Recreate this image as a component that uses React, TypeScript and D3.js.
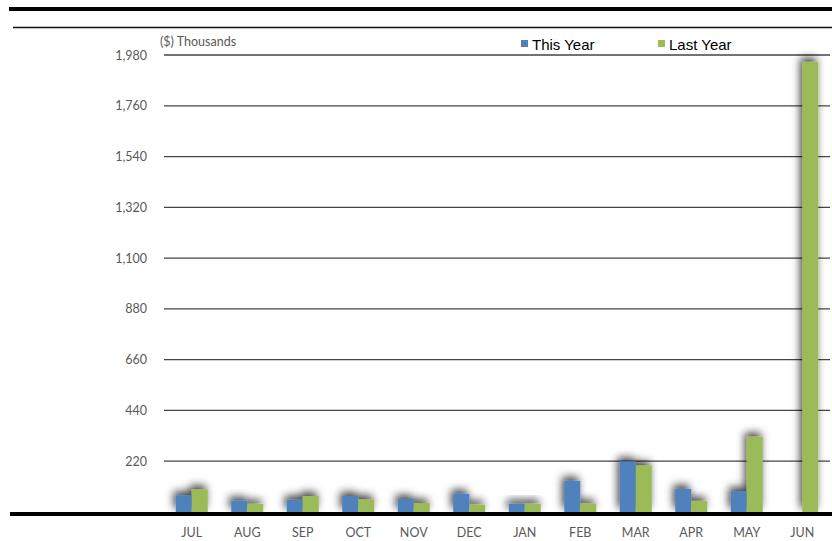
import React from "react";
import * as d3 from "d3";

const months = ["JUL","AUG","SEP","OCT","NOV","DEC","JAN","FEB","MAR","APR","MAY","JUN"];
const thisYear = [72, 49, 53, 69, 56, 79, 35, 135, 219, 100, 90, 0];
const lastYear = [98, 35, 69, 55, 39, 32, 36, 37, 202, 48, 326, 1950];
const yTicks = [220, 440, 660, 880, 1100, 1320, 1540, 1760, 1980];
const seriesNames = ["This Year", "Last Year"];
const colors = ["#4F81BD", "#9BBB59"];

export default function App() {
  const W = 832, H = 541;
  const x = d3.scaleBand<string>().domain(months).range([164, 830]).paddingInner(0).paddingOuter(0);
  const y = d3.scaleLinear().domain([0, 1980]).range([512, 55]);
  const barW = 16;
  const fmt = d3.format(",");
  const font = "Lato, 'Open Sans', sans-serif";
  return (
    <svg width={W} height={H} style={{ position: "absolute", left: 0, top: 0, background: "#fff" }}>
      <defs>
        <filter id="sh" x="-100%" y="-100%" width="300%" height="300%">
          <feDropShadow dx={-2} dy={-4} stdDeviation={4} floodColor="#000" floodOpacity={0.75} />
        </filter>
      </defs>
      <line x1={9} x2={832} y1={9} y2={9} stroke="#000" strokeWidth={4} />
      <line x1={13} x2={832} y1={27.5} y2={27.5} stroke="#111" strokeWidth={1.5} />
      {yTicks.map((t) => (
        <g key={t}>
          <line x1={164} x2={830} y1={y(t)} y2={y(t)} stroke="#444" strokeWidth={1.3} />
          <text x={147} y={y(t) + 4.5} textAnchor="end" fontFamily={font} fontSize={12.5} fill="#595959">{fmt(t)}</text>
        </g>
      ))}
      <text x={160} y={46} fontFamily={font} fontSize={12.5} fill="#595959">($) Thousands</text>
      {months.map((m, i) => {
        const cx = (x(m) as number) + x.bandwidth() / 2;
        return (
          <g key={m} filter="url(#sh)">
            {thisYear[i] > 0 && (
              <rect x={cx - barW} y={y(thisYear[i])} width={barW} height={y(0) - y(thisYear[i])} fill={colors[0]} />
            )}
            {lastYear[i] > 0 && (
              <rect x={cx} y={y(lastYear[i])} width={barW} height={y(0) - y(lastYear[i])} fill={colors[1]} />
            )}
          </g>
        );
      })}
      <line x1={10} x2={832} y1={514} y2={514} stroke="#000" strokeWidth={4} />
      {months.map((m) => (
        <text key={m} x={(x(m) as number) + x.bandwidth() / 2} y={537} textAnchor="middle" fontFamily={font} fontSize={12.5} fill="#595959">{m}</text>
      ))}
      {seriesNames.map((s, i) => (
        <g key={s}>
          <rect x={[521, 658][i]} y={40} width={7} height={7} fill={colors[i]} />
          <text x={[532, 669][i]} y={49.5} fontFamily="'Liberation Sans', Arial, sans-serif" fontSize={15} fill="#000">{s}</text>
        </g>
      ))}
    </svg>
  );
}
